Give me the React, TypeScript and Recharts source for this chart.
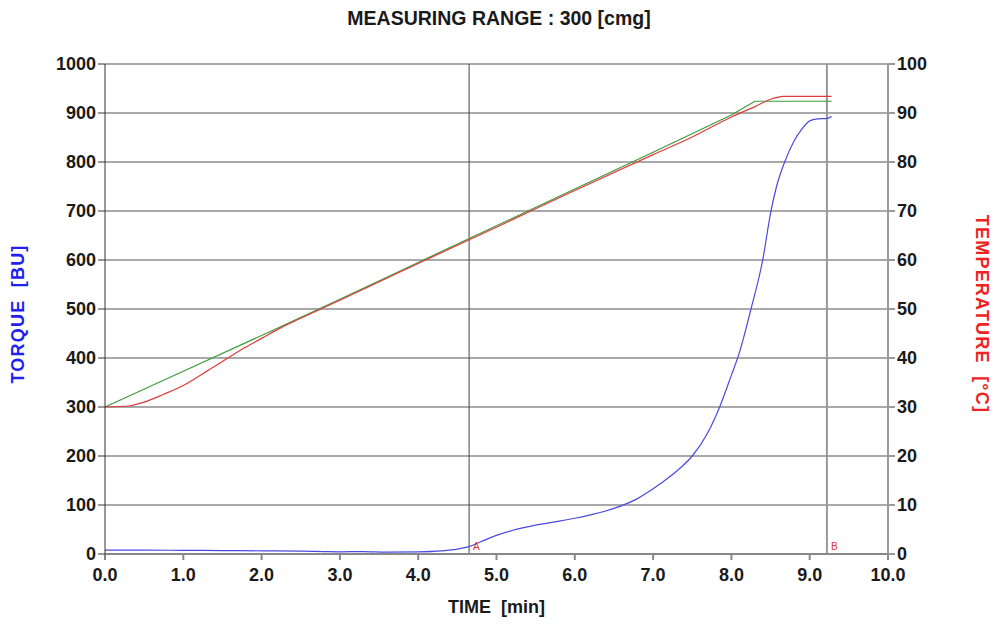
import React from 'react';
import { ComposedChart, Line, XAxis, YAxis, CartesianGrid, ReferenceLine, Label } from 'recharts';

const timeTicks = [0, 1, 2, 3, 4, 5, 6, 7, 8, 9, 10];
const torqueTicks = [0, 100, 200, 300, 400, 500, 600, 700, 800, 900, 1000];
const tempTicks = [0, 10, 20, 30, 40, 50, 60, 70, 80, 90, 100];

const torqueTime = [0, 0.5, 1.0, 1.5, 2.0, 2.5, 2.8, 3.0, 3.3, 3.6, 4.0, 4.3, 4.5, 4.65, 4.8, 5.0, 5.2, 5.5, 5.8, 6.0, 6.2, 6.5, 6.8, 7.0, 7.2, 7.35, 7.5, 7.7, 7.85, 8.0, 8.1, 8.25, 8.4, 8.5, 8.58, 8.68, 8.8, 8.9, 9.0, 9.1, 9.22, 9.28];
const torqueValues = [8, 8, 7.5, 7, 6.5, 6, 5, 4.5, 5, 4, 4.5, 6.5, 10, 15, 25, 38, 48, 59, 67, 73, 80, 93, 113, 133, 156, 176, 200, 248, 300, 365, 410, 500, 600, 695, 752, 800, 843, 867, 884, 888, 889, 893];

const targetTime = [0, 1, 2, 3, 4, 5, 6, 7, 8, 8.3, 9.28];
const targetTemp = [30, 37.3, 44.6, 52, 59.5, 67, 74.5, 82, 89.6, 92.4, 92.4];

const actualTime = [0, 0.3, 0.5, 0.75, 1.0, 1.25, 1.5, 1.75, 2.0, 2.25, 2.5, 3, 4, 5, 6, 7, 7.5, 8.0, 8.3, 8.5, 8.66, 9.28];
const actualTemp = [30, 30.2, 31, 32.6, 34.4, 36.8, 39.3, 41.8, 44.0, 46.2, 48.1, 51.8, 59.3, 66.7, 74.2, 81.5, 85.1, 89.2, 91.3, 92.8, 93.4, 93.4];

const markerA = 4.65;
const markerB = 9.22;

const torqueData = torqueTime.map((t, i) => ({ t, torque: torqueValues[i] }));
const targetData = targetTime.map((t, i) => ({ t, target: targetTemp[i] }));
const actualData = actualTime.map((t, i) => ({ t, actual: actualTemp[i] }));

const FONT = "'Liberation Sans', Arial, sans-serif";
const tickStyle = { fontFamily: FONT, fontSize: 18, fontWeight: 700, fill: '#1a1a1a' };
const NB = '\u00A0\u00A0';

export default function App() {
  return (
    <div style={{ position: 'absolute', left: 0, top: 0, width: 995, height: 626, background: '#fff' }}>
      <ComposedChart width={995} height={626} margin={{ top: 64, right: 47, bottom: 32, left: 45 }}>
        <text x={499} y={25} textAnchor="middle" style={{ fontFamily: FONT, fontSize: 19.5, fontWeight: 700, fill: '#1a1a1a' }}>
          MEASURING RANGE : 300 [cmg]
        </text>
        <CartesianGrid vertical={false} stroke="#555" strokeWidth={1.2} yAxisId="torque" />
        <XAxis
          dataKey="t"
          type="number"
          domain={[0, 10]}
          ticks={timeTicks}
          tickFormatter={(v: number) => v.toFixed(1)}
          allowDuplicatedCategory={false}
          height={40}
          stroke="#888"
          strokeWidth={2}
          tickSize={6}
          tickMargin={8}
          tick={tickStyle}
        >
          <Label value={`TIME${NB}[min]`} position="insideBottom" offset={-19} style={{ fontFamily: FONT, fontSize: 18, fontWeight: 700, fill: '#1a1a1a' }} />
        </XAxis>
        <YAxis
          yAxisId="torque"
          orientation="left"
          domain={[0, 1000]}
          ticks={torqueTicks}
          width={60}
          stroke="#333"
          tickSize={7}
          tick={tickStyle}
        >
          <Label value={`TORQUE${NB}[BU]`} angle={-90} position="left" offset={27} dy={5} style={{ fontFamily: FONT, fontSize: 18, fontWeight: 700, fill: '#2222ee', letterSpacing: 1.2, textAnchor: 'middle' }} />
        </YAxis>
        <YAxis
          yAxisId="temp"
          orientation="right"
          domain={[0, 100]}
          ticks={tempTicks}
          width={60}
          stroke="#999"
          strokeWidth={2}
          tickSize={7}
          tick={tickStyle}
        >
          <Label value={`TEMPERATURE${NB}[°C]`} angle={90} position="right" offset={34} dy={5} style={{ fontFamily: FONT, fontSize: 18, fontWeight: 700, fill: '#ee2222', letterSpacing: 1.2, textAnchor: 'middle' }} />
        </YAxis>
        <ReferenceLine x={markerA} yAxisId="torque" stroke="#444" strokeWidth={1}>
          <Label value="A" position="insideBottomLeft" offset={4} style={{ fontFamily: FONT, fontSize: 10, fill: '#e03030' }} />
        </ReferenceLine>
        <ReferenceLine x={markerB} yAxisId="torque" stroke="#999" strokeWidth={2}>
          <Label value="B" position="insideBottomLeft" offset={4} style={{ fontFamily: FONT, fontSize: 10, fill: '#e03030' }} />
        </ReferenceLine>
        <Line data={targetData} dataKey="target" yAxisId="temp" type="linear" stroke="#3c9a3c" strokeWidth={1.2} dot={false} isAnimationActive={false} />
        <Line data={actualData} dataKey="actual" yAxisId="temp" type="monotone" stroke="#e03a3a" strokeWidth={1.2} dot={false} isAnimationActive={false} />
        <Line data={torqueData} dataKey="torque" yAxisId="torque" type="monotone" stroke="#4a4ae0" strokeWidth={1.2} dot={false} isAnimationActive={false} />
      </ComposedChart>
    </div>
  );
}
